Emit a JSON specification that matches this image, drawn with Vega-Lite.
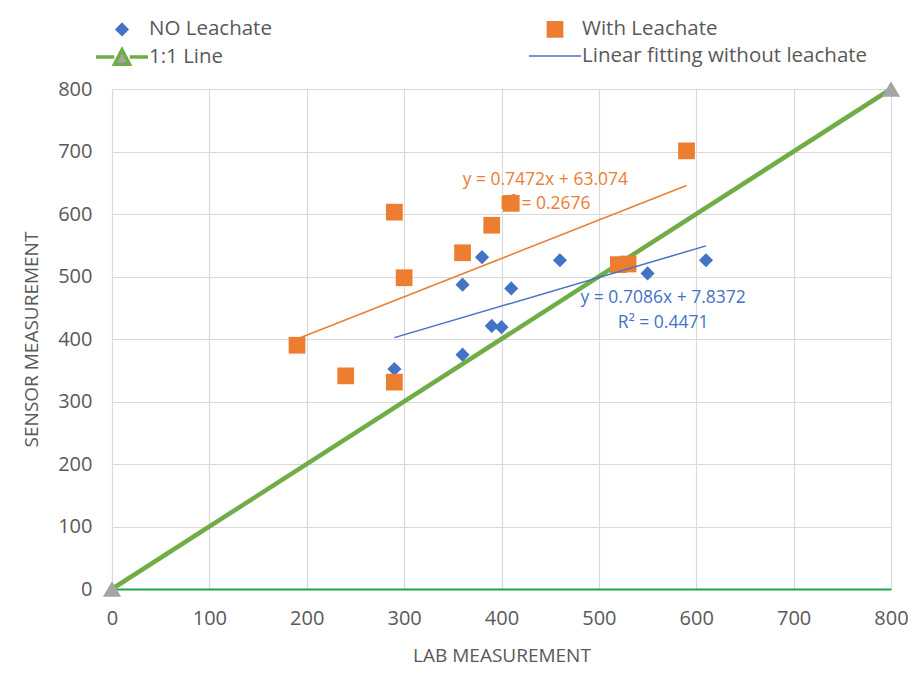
{
  "$schema": "https://vega.github.io/schema/vega-lite/v6.json",
  "width": 779,
  "height": 500,
  "autosize": {"type": "none"},
  "padding": {"left": 112, "top": 89, "right": 29, "bottom": 86},
  "background": "white",
  "config": {
    "view": {"stroke": null},
    "font": "Open Sans",
    "axis": {
      "labelColor": "#595959",
      "titleColor": "#595959",
      "labelFont": "Open Sans",
      "titleFont": "Open Sans",
      "titleFontWeight": "normal",
      "gridColor": "#d9d9d9",
      "gridWidth": 1.2,
      "ticks": false,
      "tickSize": 0
    },
    "legend": {
      "title": null,
      "orient": "none",
      "legendX": -5,
      "legendY": -70,
      "columns": 2,
      "columnPadding": 254,
      "rowPadding": 2,
      "padding": 0,
      "labelFontSize": 20.5,
      "labelColor": "#595959",
      "labelFont": "Open Sans",
      "labelOffset": 12,
      "labelLimit": 400,
      "symbolOpacity": 1
    }
  },
  "datasets": {
    "samples": [
      {"series": "NO Leachate", "lab": 290, "sensor": 352},
      {"series": "NO Leachate", "lab": 360, "sensor": 375},
      {"series": "NO Leachate", "lab": 360, "sensor": 487},
      {"series": "NO Leachate", "lab": 380, "sensor": 531},
      {"series": "NO Leachate", "lab": 390, "sensor": 421},
      {"series": "NO Leachate", "lab": 400, "sensor": 419},
      {"series": "NO Leachate", "lab": 410, "sensor": 481},
      {"series": "NO Leachate", "lab": 460, "sensor": 526},
      {"series": "NO Leachate", "lab": 550, "sensor": 505},
      {"series": "NO Leachate", "lab": 610, "sensor": 526},
      {"series": "With Leachate", "lab": 190, "sensor": 390},
      {"series": "With Leachate", "lab": 240, "sensor": 341},
      {"series": "With Leachate", "lab": 290, "sensor": 603},
      {"series": "With Leachate", "lab": 290, "sensor": 331},
      {"series": "With Leachate", "lab": 300, "sensor": 498},
      {"series": "With Leachate", "lab": 360, "sensor": 538},
      {"series": "With Leachate", "lab": 390, "sensor": 582},
      {"series": "With Leachate", "lab": 410, "sensor": 617},
      {"series": "With Leachate", "lab": 520, "sensor": 519},
      {"series": "With Leachate", "lab": 530, "sensor": 520},
      {"series": "With Leachate", "lab": 590, "sensor": 701}
    ],
    "identity": [
      {"lab": 0, "sensor": 0},
      {"lab": 800, "sensor": 800}
    ],
    "equations": [
      {"group": "With Leachate", "lab": 445, "sensor": 654, "text": "y = 0.7472x + 63.074"},
      {"group": "With Leachate", "lab": 445, "sensor": 616, "text": "R² = 0.2676"},
      {"group": "NO Leachate", "lab": 566, "sensor": 466, "text": "y = 0.7086x + 7.8372"},
      {"group": "NO Leachate", "lab": 566, "sensor": 425, "text": "R² = 0.4471"}
    ]
  },
  "encoding": {
    "x": {
      "field": "lab",
      "type": "quantitative",
      "scale": {"domain": [0, 800], "nice": false, "zero": false},
      "axis": {
        "title": "LAB MEASUREMENT",
        "values": [0, 100, 200, 300, 400, 500, 600, 700, 800],
        "labelFontSize": 20,
        "labelFlush": false,
        "labelPadding": 19,
        "titleFontSize": 19,
        "titlePadding": 18,
        "domain": true,
        "domainColor": "#1fa64a",
        "domainWidth": 2
      }
    },
    "y": {
      "field": "sensor",
      "type": "quantitative",
      "scale": {"domain": [0, 800], "nice": false, "zero": false},
      "axis": {
        "title": "SENSOR MEASUREMENT",
        "values": [0, 100, 200, 300, 400, 500, 600, 700, 800],
        "labelFontSize": 20,
        "labelPadding": 20,
        "titleFontSize": 19,
        "titlePadding": 16,
        "domain": false
      }
    }
  },
  "layer": [
    {
      "data": {"name": "equations"},
      "transform": [{"filter": "datum.group === 'With Leachate'"}],
      "mark": {"type": "text", "fontSize": 17.5, "align": "center", "baseline": "middle", "color": "#ed7d31"},
      "encoding": {"text": {"field": "text", "type": "nominal"}}
    },
    {
      "data": {"name": "equations"},
      "transform": [{"filter": "datum.group === 'NO Leachate'"}],
      "mark": {"type": "text", "fontSize": 17.5, "align": "center", "baseline": "middle", "color": "#4472c4"},
      "encoding": {"text": {"field": "text", "type": "nominal"}}
    },
    {
      "data": {"name": "identity"},
      "mark": {"type": "line", "color": "#70ad47", "strokeWidth": 4.5, "clip": false},
      "encoding": {}
    },
    {
      "data": {"name": "identity"},
      "mark": {"type": "point", "shape": "triangle-up", "filled": true, "color": "#a5a5a5", "opacity": 1, "size": 330, "clip": false},
      "encoding": {}
    },
    {
      "data": {"name": "samples"},
      "mark": {"type": "point", "filled": true, "opacity": 1},
      "encoding": {
        "fill": {
          "field": "series",
          "type": "nominal",
          "scale": {
            "domain": ["NO Leachate", "1:1 Line", "With Leachate", "Linear fitting without leachate"],
            "range": ["#4472c4", "#a5a5a5", "#ed7d31", "transparent"]
          }
        },
        "stroke": {
          "field": "series",
          "type": "nominal",
          "scale": {
            "domain": ["NO Leachate", "1:1 Line", "With Leachate", "Linear fitting without leachate"],
            "range": ["transparent", "#70ad47", "transparent", "#4472c4"]
          }
        },
        "strokeWidth": {
          "field": "series",
          "type": "nominal",
          "scale": {
            "type": "ordinal",
            "domain": ["NO Leachate", "1:1 Line", "With Leachate", "Linear fitting without leachate"],
            "range": [0, 3.5, 0, 1.5]
          }
        },
        "shape": {
          "field": "series",
          "type": "nominal",
          "scale": {
            "domain": ["NO Leachate", "1:1 Line", "With Leachate", "Linear fitting without leachate"],
            "range": ["diamond", "M-2,0L-0.6,0M0.6,0L2,0M-0.58,0.56L0,-0.56L0.58,0.56Z", "square", "M-2,0L2,0"]
          }
        },
        "size": {
          "field": "series",
          "type": "nominal",
          "scale": {
            "type": "ordinal",
            "domain": ["NO Leachate", "1:1 Line", "With Leachate", "Linear fitting without leachate"],
            "range": [200, 676, 280, 676]
          }
        }
      }
    },
    {
      "data": {"name": "samples"},
      "transform": [
        {"filter": "datum.series === 'With Leachate'"},
        {"regression": "sensor", "on": "lab"}
      ],
      "mark": {"type": "line", "color": "#ed7d31", "strokeWidth": 1.5},
      "encoding": {}
    },
    {
      "data": {"name": "samples"},
      "transform": [
        {"filter": "datum.series === 'NO Leachate'"},
        {"regression": "sensor", "on": "lab"}
      ],
      "mark": {"type": "line", "color": "#4472c4", "strokeWidth": 1.5},
      "encoding": {}
    }
  ]
}
